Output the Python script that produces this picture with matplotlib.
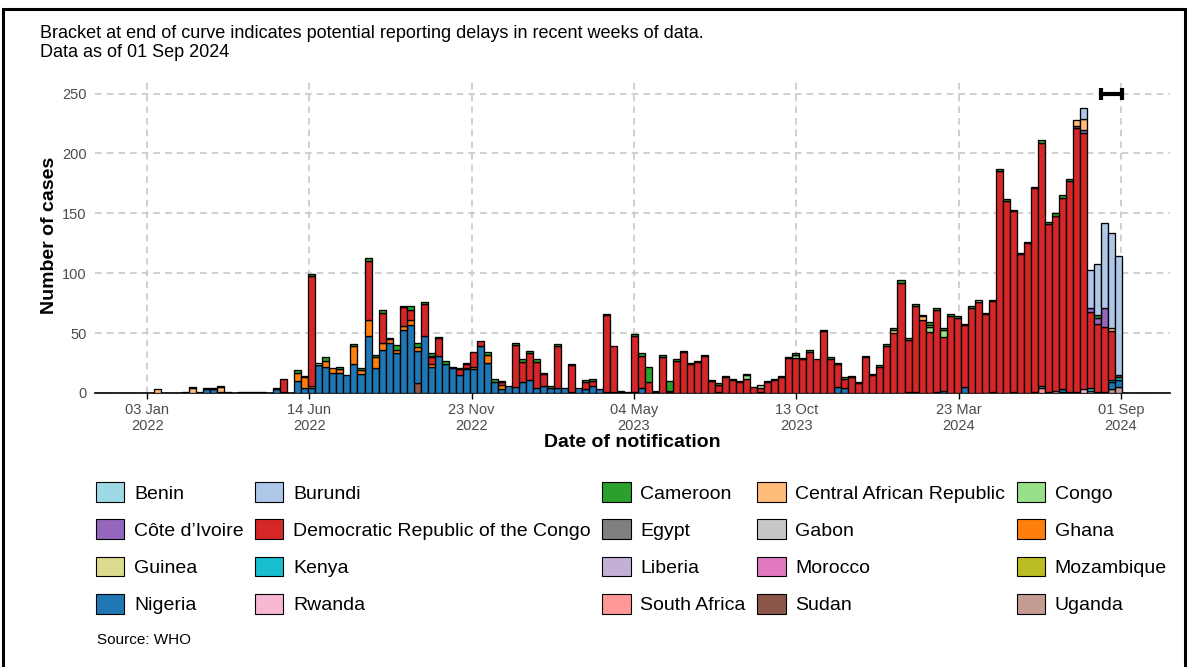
import numpy as np
import pandas as pd
import matplotlib
matplotlib.use('Agg')
import matplotlib.pyplot as plt
from matplotlib.patches import Patch, Rectangle

plt.rcParams['font.family'] = ['Liberation Sans', 'DejaVu Sans']

# weekly notifications, weeks starting Monday 10 Jan 2022
N_WEEKS = 138
week_start = pd.date_range('2022-01-10', periods=N_WEEKS, freq='7D')

drc = [0, 0, 0, 0, 0, 0, 0, 0, 0, 0,
       0, 0, 0, 0, 0, 0, 0, 0, 11, 0,
       0, 0, 92, 0, 0, 0, 0, 0, 0, 0,
       49, 0, 25, 0, 0, 16, 8, 0, 26, 6,
       15, 0, 0, 5, 3, 12, 4, 0, 0, 2,
       0, 35, 17, 22, 22, 10, 0, 35, 0, 22,
       0, 6, 4, 0, 64, 38, 0, 0, 47, 27,
       9, 0, 30, 1, 27, 34, 24, 26, 31, 10,
       6, 13, 11, 9, 12, 5, 3, 9, 11, 13,
       29, 29, 28, 34, 28, 52, 28, 19, 8, 13,
       8, 30, 15, 22, 39, 50, 92, 43, 72, 61,
       51, 68, 45, 64, 63, 52, 71, 76, 66, 76,
       185, 160, 151, 116, 125, 170, 203, 140, 146, 160,
       176, 220, 214, 64, 57, 54, 41, 2]

nigeria = [0, 0, 0, 0, 0, 0, 1, 3, 3, 1,
           1, 0, 1, 1, 1, 1, 0, 3, 1, 0,
           10, 4, 4, 23, 22, 17, 17, 15, 24, 16,
           48, 21, 36, 42, 33, 53, 57, 27, 48, 22,
           31, 24, 21, 15, 20, 20, 39, 25, 9, 3,
           6, 5, 9, 11, 4, 6, 4, 4, 4, 1,
           4, 3, 6, 3, 1, 1, 1, 1, 1, 4,
           0, 1, 0, 1, 0, 0, 0, 0, 0, 0,
           1, 0, 0, 0, 0, 0, 1, 0, 0, 0,
           0, 0, 0, 0, 0, 0, 0, 5, 4, 0,
           0, 0, 0, 0, 0, 0, 0, 1, 1, 0,
           0, 1, 2, 0, 0, 5, 0, 0, 0, 1,
           0, 0, 1, 0, 0, 0, 0, 1, 0, 2,
           0, 0, 0, 0, 0, 0, 6, 6]

# smaller series: {week index: cases}
ghana_pts = {20: 7, 21: 9, 22: 2, 24: 5, 25: 4, 26: 3, 28: 15, 29: 3, 30: 13, 31: 9,
             32: 6, 33: 3, 34: 3, 35: 3, 36: 4, 37: 3, 39: 2, 44: 1, 45: 2, 47: 7, 49: 4}
car_pts = {0: 3, 4: 1, 5: 4, 9: 4, 39: 1, 105: 3, 109: 3, 110: 2, 131: 5, 132: 9, 136: 2}
cameroon_pts = {5: 1, 7: 1, 8: 1, 9: 1, 17: 1, 20: 2, 21: 1, 22: 1, 24: 3, 26: 2, 28: 2,
                29: 2, 30: 3, 31: 2, 32: 2, 33: 1, 34: 4, 35: 1, 36: 4, 37: 4, 38: 2, 39: 2,
                40: 1, 41: 3, 42: 1, 43: 1, 44: 1, 47: 2, 48: 3, 49: 1, 51: 2, 52: 2, 53: 2,
                54: 2, 55: 1, 56: 2, 57: 2, 59: 1, 61: 2, 62: 2, 64: 1, 66: 1, 68: 1, 69: 2,
                70: 13, 71: 1, 72: 2, 73: 8, 74: 1, 75: 1, 76: 1, 77: 1, 78: 1, 79: 1, 80: 1,
                81: 1, 82: 1, 83: 1, 84: 1, 87: 1, 88: 1, 89: 1, 90: 1, 91: 1, 92: 1, 93: 2,
                95: 1, 96: 2, 97: 1, 98: 1, 99: 1, 100: 1, 101: 1, 102: 1, 103: 1, 104: 2,
                105: 1, 106: 2, 107: 2, 108: 1, 109: 1, 110: 2, 111: 2, 112: 1, 113: 2,
                114: 1, 115: 1, 116: 2, 118: 1, 119: 1, 120: 2, 121: 2, 122: 1, 123: 1,
                124: 1, 125: 1, 126: 2, 127: 2, 128: 2, 129: 2, 130: 2, 134: 2}
congo_pts = {84: 3, 86: 3, 91: 3, 110: 4, 112: 6, 117: 2}
burundi_pts = {132: 9, 133: 32, 134: 43, 135: 71, 136: 80, 137: 99}
sudan_pts = {37: 8}
cdi_pts = {131: 2, 132: 3, 133: 3, 134: 5, 135: 16}
kenya_pts = {126: 2, 133: 2, 136: 2, 137: 2}
south_africa_pts = {125: 1, 126: 4, 128: 2, 129: 1, 130: 1, 131: 1}
rwanda_pts = {132: 3}
uganda_pts = {133: 2, 134: 1, 135: 1, 136: 3, 137: 5}
benin_pts = {23: 2}

countries = ['Benin', 'Burundi', 'Cameroon', 'Central African Republic', 'Congo',
             'Côte d’Ivoire', 'Democratic Republic of the Congo', 'Egypt', 'Gabon', 'Ghana',
             'Guinea', 'Kenya', 'Liberia', 'Morocco', 'Mozambique',
             'Nigeria', 'Rwanda', 'South Africa', 'Sudan', 'Uganda']
colors = ['#9edae5', '#aec7e8', '#2ca02c', '#ffbb78', '#98df8a',
          '#9467bd', '#d62728', '#7f7f7f', '#c7c7c7', '#ff7f0e',
          '#dbdb8d', '#17becf', '#c5b0d5', '#e377c2', '#bcbd22',
          '#1f77b4', '#f7b6d2', '#ff9896', '#8c564b', '#c49c94']

tick_dates = pd.to_datetime(['2022-01-03', '2022-06-14', '2022-11-23', '2023-05-04',
                             '2023-10-13', '2024-03-23', '2024-09-01'])


def weekly(points):
    out = np.zeros(N_WEEKS)
    for k, v in points.items():
        out[k] = v
    return out


series = {
    'Benin': weekly(benin_pts),
    'Burundi': weekly(burundi_pts),
    'Cameroon': weekly(cameroon_pts),
    'Central African Republic': weekly(car_pts),
    'Congo': weekly(congo_pts),
    'Côte d’Ivoire': weekly(cdi_pts),
    'Democratic Republic of the Congo': np.array(drc, dtype=float),
    'Ghana': weekly(ghana_pts),
    'Kenya': weekly(kenya_pts),
    'Nigeria': np.array(nigeria, dtype=float),
    'Rwanda': weekly(rwanda_pts),
    'South Africa': weekly(south_africa_pts),
    'Sudan': weekly(sudan_pts),
    'Uganda': weekly(uganda_pts),
}

fig = plt.figure(figsize=(11.93, 6.67), dpi=100)
ax = fig.add_axes([95 / 1193, 274 / 667, 1075 / 1193, 315 / 667])

# stack like ggplot: last level at the bottom
bottom = np.zeros(N_WEEKS)
for name, col in zip(countries[::-1], colors[::-1]):
    if name not in series:
        continue
    vals = series[name]
    keep = vals > 0
    ax.bar(week_start[keep], vals[keep], width=7, bottom=bottom[keep], align='edge',
           color=col, edgecolor='black', linewidth=0.95, zorder=3)
    bottom += vals

# bracket for reporting delay (last three weeks)
b0 = week_start[-3]
b1 = week_start[-1] + pd.Timedelta(days=7)
ax.plot([b0, b1], [250, 250], color='black', lw=3, zorder=5, solid_capstyle='butt')
ax.plot([b0, b0], [245, 255], color='black', lw=3, zorder=5, solid_capstyle='butt')
ax.plot([b1, b1], [245, 255], color='black', lw=3, zorder=5, solid_capstyle='butt')

ax.set_xlim(pd.Timestamp('2021-11-12'), pd.Timestamp('2024-10-20'))
ax.set_ylim(0, 263)
ax.set_yticks([0, 50, 100, 150, 200, 250])
ax.set_xticks(tick_dates)
ax.set_xticklabels([d.strftime('%d %b\n%Y') for d in tick_dates])
ax.grid(True, color='#c8c8c8', linestyle=(0, (4, 3)), linewidth=1.2, zorder=0)
ax.set_axisbelow(True)
for s in ['top', 'right', 'left']:
    ax.spines[s].set_visible(False)
ax.spines['bottom'].set_linewidth(1.2)
ax.tick_params(axis='y', length=0, labelsize=10.5, labelcolor='#4d4d4d', pad=6)
ax.tick_params(axis='x', length=4, width=1, labelsize=10.5, labelcolor='#4d4d4d', pad=3)

ax.set_ylabel('Number of cases', fontsize=14, fontweight='bold')
ax.set_xlabel('Date of notification', fontsize=14, fontweight='bold')
ax.yaxis.set_label_coords(-0.034, 0.5)
ax.xaxis.set_label_coords(0.5, -0.13)

fig.text(40 / 1193, 1 - 43 / 667,
         'Bracket at end of curve indicates potential reporting delays in recent weeks of data.\nData as of 01 Sep 2024',
         fontsize=13, va='center', ha='left', linespacing=1.1)

# legend, filled row by row
order = [r * 5 + c for c in range(5) for r in range(4)]
handles = [Patch(facecolor=colors[i], edgecolor='black', linewidth=0.8) for i in order]
labels = [countries[i] for i in order]
fig.legend(handles, labels, ncol=5, loc='upper left', bbox_to_anchor=(96 / 1193, 1 - 482 / 667),
           frameon=False, fontsize=14, handlelength=1.45, handleheight=1.2,
           handletextpad=0.5, columnspacing=0.6, labelspacing=0.86,
           borderpad=0, borderaxespad=0)

fig.text(97 / 1193, 1 - 640 / 667, 'Source: WHO', fontsize=11, va='center', ha='left')

fig.add_artist(Rectangle((3 / 1193, -0.01), 1182 / 1193, 1 - 9.5 / 667 + 0.01,
                         transform=fig.transFigure, fill=False, edgecolor='black', linewidth=2.2))

fig.savefig('out.png', dpi=100)
